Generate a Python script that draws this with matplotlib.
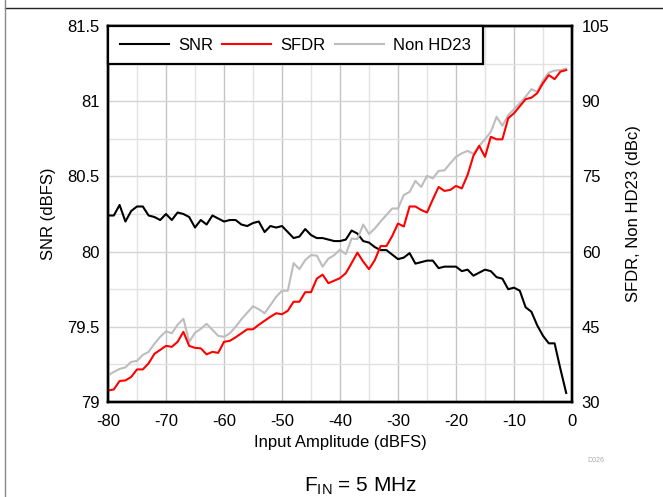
import numpy as np
import matplotlib
matplotlib.use("Agg")
import matplotlib.pyplot as plt
from matplotlib.lines import Line2D

plt.rcParams['font.family'] = ['Liberation Sans', 'DejaVu Sans']
plt.rcParams['mathtext.fontset'] = 'custom'
plt.rcParams['mathtext.rm'] = 'Liberation Sans'
plt.rcParams['mathtext.it'] = 'Liberation Sans:italic'

# Input amplitude (dBFS)
amplitude = list(range(-80, 0))

snr = [80.24, 80.24, 80.31, 80.20, 80.27, 80.30, 80.30, 80.24, 80.23, 80.21,
       80.25, 80.21, 80.26, 80.25, 80.23, 80.16, 80.21, 80.18, 80.24, 80.22,
       80.20, 80.21, 80.21, 80.18, 80.17, 80.19, 80.20, 80.13, 80.17, 80.16,
       80.17, 80.13, 80.09, 80.10, 80.15, 80.11, 80.09, 80.09, 80.08, 80.07,
       80.07, 80.08, 80.14, 80.12, 80.07, 80.06, 80.03, 80.01, 80.01, 79.98,
       79.95, 79.96, 79.99, 79.92, 79.93, 79.94, 79.94, 79.89, 79.90, 79.90,
       79.90, 79.87, 79.88, 79.84, 79.86, 79.88, 79.87, 79.83, 79.82, 79.75,
       79.76, 79.74, 79.63, 79.60, 79.51, 79.44, 79.39, 79.39, 79.22, 79.06]

sfdr = [32.3, 32.5, 34.2, 34.3, 35.0, 36.5, 36.5, 37.7, 39.6, 40.4,
        41.2, 41.0, 42.0, 44.0, 41.2, 40.8, 40.7, 39.5, 40.0, 39.8,
        42.0, 42.2, 42.9, 43.7, 44.5, 44.5, 45.4, 46.2, 47.0, 47.7,
        47.5, 48.2, 50.0, 50.0, 51.9, 51.9, 54.6, 55.4, 53.7, 54.2,
        54.7, 55.7, 57.7, 59.8, 58.0, 56.5, 58.3, 61.1, 61.1, 63.1,
        65.6, 65.0, 69.0, 69.0, 68.3, 67.8, 70.4, 72.9, 72.1, 72.3,
        73.1, 72.6, 75.3, 79.1, 81.1, 78.9, 82.9, 82.4, 82.4, 86.6,
        87.6, 89.0, 90.4, 90.7, 91.6, 93.6, 95.2, 94.4, 95.9, 96.2]

non_hd23 = [35.3, 36.0, 36.6, 36.9, 38.0, 38.2, 39.4, 40.0, 41.6, 43.0,
            44.1, 43.7, 45.4, 46.6, 42.0, 43.8, 44.6, 45.6, 44.4, 43.2,
            43.0, 43.7, 45.0, 46.5, 47.8, 49.1, 48.5, 47.7, 49.3, 51.0,
            52.2, 52.2, 57.7, 56.5, 58.3, 59.3, 59.2, 57.0, 58.6, 59.3,
            60.4, 59.5, 62.6, 62.5, 65.4, 63.5, 64.6, 66.0, 67.3, 68.6,
            68.6, 71.3, 71.9, 74.1, 72.9, 75.1, 74.6, 76.1, 76.2, 77.6,
            78.9, 79.6, 80.1, 79.5, 81.1, 82.4, 83.9, 86.9, 85.1, 87.2,
            88.4, 89.6, 90.9, 92.4, 91.9, 94.2, 95.7, 96.1, 96.2, 96.5]

x_ticks = [-80, -70, -60, -50, -40, -30, -20, -10, 0]
left_ticks = [79, 79.5, 80, 80.5, 81, 81.5]
right_ticks = [30, 45, 60, 75, 90, 105]

W, H = 663, 497
fig = plt.figure(figsize=(W / 100, H / 100), dpi=100)
ax = fig.add_axes([108 / W, 1 - 402 / H, (572 - 108) / W, (402 - 26) / H])
ax2 = ax.twinx()

ax.set_xlim(-80, 0)
ax.set_ylim(79, 81.5)
ax2.set_ylim(30, 105)

ax.set_xticks(x_ticks)
ax.set_xticklabels([str(t) for t in x_ticks])
ax.set_xticks(np.arange(-80, 1, 5), minor=True)
ax.set_yticks(left_ticks)
ax.set_yticklabels(['79', '79.5', '80', '80.5', '81', '81.5'])
ax.set_yticks(np.arange(79, 81.51, 0.25), minor=True)
ax2.set_yticks(right_ticks)
ax2.set_yticklabels([str(t) for t in right_ticks])

ax.grid(which='major', axis='x', color='#c4c4c4', lw=1.0)
ax.grid(which='minor', axis='x', color='#e2e2e2', lw=1.0)
ax.grid(which='major', axis='y', color='#d4d4d4', lw=1.0)
ax.grid(which='minor', axis='y', color='#e2e2e2', lw=1.0)
ax.set_axisbelow(True)

ax.tick_params(which='both', length=0, labelsize=12)
ax.tick_params(axis='x', pad=9)
ax.tick_params(axis='y', pad=6)
ax2.tick_params(which='both', length=0, labelsize=12, pad=7)

for a in (ax, ax2):
    for s in a.spines.values():
        s.set_linewidth(1.7)
        s.set_color('black')

l1, = ax.plot(amplitude, snr, color='black', lw=1.5, label='SNR')
l3, = ax2.plot(amplitude, non_hd23, color='#bdbdbd', lw=1.5, label='Non HD23')
l2, = ax2.plot(amplitude, sfdr, color='#ff0000', lw=1.5, label='SFDR')

ax.set_xlabel('Input Amplitude (dBFS)', fontsize=12, labelpad=4)
ax.set_ylabel('SNR (dBFS)', fontsize=12, labelpad=8)
ax2.set_ylabel('SFDR, Non HD23 (dBc)', fontsize=12, labelpad=12)

leg = ax2.legend([l1, l2, l3], ['SNR', 'SFDR', 'Non HD23'], loc='upper left',
                 bbox_to_anchor=(0, 1), borderaxespad=0, ncol=3, frameon=True,
                 fancybox=False, edgecolor='black', framealpha=1, fontsize=12,
                 handlelength=2.95, handletextpad=0.55, columnspacing=0.55,
                 borderpad=0.7)
leg.get_frame().set_linewidth(1.6)

fig.text(361 / W, 1 - 486 / H, r'F$_{\mathrm{IN}}$ = 5 MHz', fontsize=15,
         ha='center', va='center')
fig.text(596 / W, 1 - 460 / H, 'D026', fontsize=5, color='#aaaaaa',
         ha='center', va='center')

fig.add_artist(Line2D([5 / W, 1], [1 - 8 / H, 1 - 8 / H], transform=fig.transFigure,
                      color='#222222', lw=1.0))
fig.add_artist(Line2D([4.5 / W, 4.5 / W], [0, 1], transform=fig.transFigure,
                      color='#888888', lw=1.0))

fig.savefig('out.png', dpi=100)
